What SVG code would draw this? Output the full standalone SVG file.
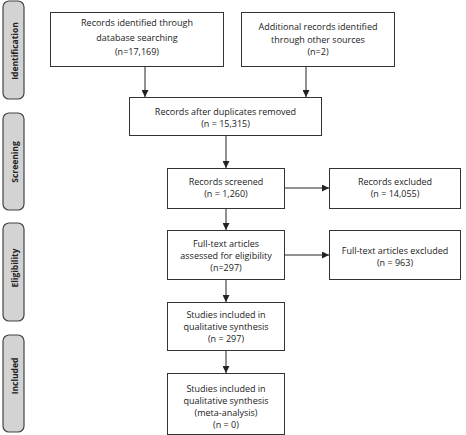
<svg xmlns="http://www.w3.org/2000/svg" width="466" height="435" viewBox="0 0 466 435">
<style>
.box{fill:#fff;stroke:#333;stroke-width:1}
.side{fill:#d3d3d3;stroke:#444;stroke-width:1.2}
.t{font-family:"Open Sans","Noto Sans",sans-serif;font-size:9px;fill:#222;text-anchor:middle}
.s{font-family:"Open Sans","Noto Sans",sans-serif;font-size:8.5px;font-weight:bold;fill:#222;text-anchor:middle}
.c{stroke:#222;stroke-width:1;fill:none;marker-end:url(#ah)}
</style>
<defs>
<marker id="ah" viewBox="0 0 10 10" refX="10" refY="5" markerWidth="7" markerHeight="7" markerUnits="userSpaceOnUse" orient="auto">
<path d="M0,0 L10,5 L0,10 z" fill="#222"/>
</marker>
</defs>
<g id="side-identification"><rect class="side" x="3" y="1" width="21" height="98" rx="6"/><text class="s" transform="translate(17.5,51) rotate(-90)">Identification</text></g>
<g id="side-screening"><rect class="side" x="3" y="113" width="21" height="97" rx="6"/><text class="s" transform="translate(17.5,162) rotate(-90)">Screening</text></g>
<g id="side-eligibility"><rect class="side" x="3" y="223" width="21" height="98" rx="6"/><text class="s" transform="translate(17.5,268) rotate(-90)">Eligibility</text></g>
<g id="side-included"><rect class="side" x="3" y="335" width="21" height="97" rx="6"/><text class="s" transform="translate(17.5,376) rotate(-90)">Included</text></g>

<g id="connectors">
<line class="c" x1="145" y1="67" x2="145" y2="97"/>
<line class="c" x1="306" y1="67" x2="306" y2="97"/>
<line class="c" x1="226" y1="136" x2="226" y2="168"/>
<line class="c" x1="284" y1="188" x2="329" y2="188"/>
<line class="c" x1="226" y1="209" x2="226" y2="230"/>
<line class="c" x1="284" y1="255" x2="329" y2="255"/>
<line class="c" x1="226" y1="280" x2="226" y2="302"/>
<line class="c" x1="226" y1="351" x2="226" y2="373"/>
</g>

<g id="n1"><rect class="box" x="50.5" y="12.5" width="173" height="54"/>
<text class="t" x="137" y="26">Records identified through</text>
<text class="t" x="137" y="40.5">database searching</text>
<text class="t" x="137" y="55">(n=17,169)</text></g>
<g id="n2"><rect class="box" x="241.5" y="12.5" width="153" height="54"/>
<text class="t" x="318" y="30">Additional records identified</text>
<text class="t" x="318" y="42.5">through other sources</text>
<text class="t" x="318" y="55">(n=2)</text></g>
<g id="n3"><rect class="box" x="129.5" y="97.5" width="192" height="38"/>
<text class="t" x="225.5" y="115">Records after duplicates removed</text>
<text class="t" x="225.5" y="127">(n = 15,315)</text></g>
<g id="n4"><rect class="box" x="167.5" y="168.5" width="117" height="40"/>
<text class="t" x="226" y="185">Records screened</text>
<text class="t" x="226" y="196.5">(n = 1,260)</text></g>
<g id="n5"><rect class="box" x="329.5" y="168.5" width="131" height="40"/>
<text class="t" x="395" y="185">Records excluded</text>
<text class="t" x="395" y="196.5">(n = 14,055)</text></g>
<g id="n6"><rect class="box" x="167.5" y="230.5" width="117" height="49"/>
<text class="t" x="226" y="247">Full-text articles</text>
<text class="t" x="226" y="259">assessed for eligibility</text>
<text class="t" x="226" y="271">(n=297)</text></g>
<g id="n7"><rect class="box" x="329.5" y="230.5" width="131" height="49"/>
<text class="t" x="395" y="254">Full-text articles excluded</text>
<text class="t" x="395" y="266">(n = 963)</text></g>
<g id="n8"><rect class="box" x="167.5" y="302.5" width="117" height="48"/>
<text class="t" x="226" y="318">Studies included in</text>
<text class="t" x="226" y="330">qualitative synthesis</text>
<text class="t" x="226" y="342">(n = 297)</text></g>
<g id="n9"><rect class="box" x="167.5" y="373.5" width="117" height="61"/>
<text class="t" x="226" y="392">Studies included in</text>
<text class="t" x="226" y="404">qualitative synthesis</text>
<text class="t" x="226" y="416">(meta-analysis)</text>
<text class="t" x="226" y="428">(n = 0)</text></g>
</svg>
